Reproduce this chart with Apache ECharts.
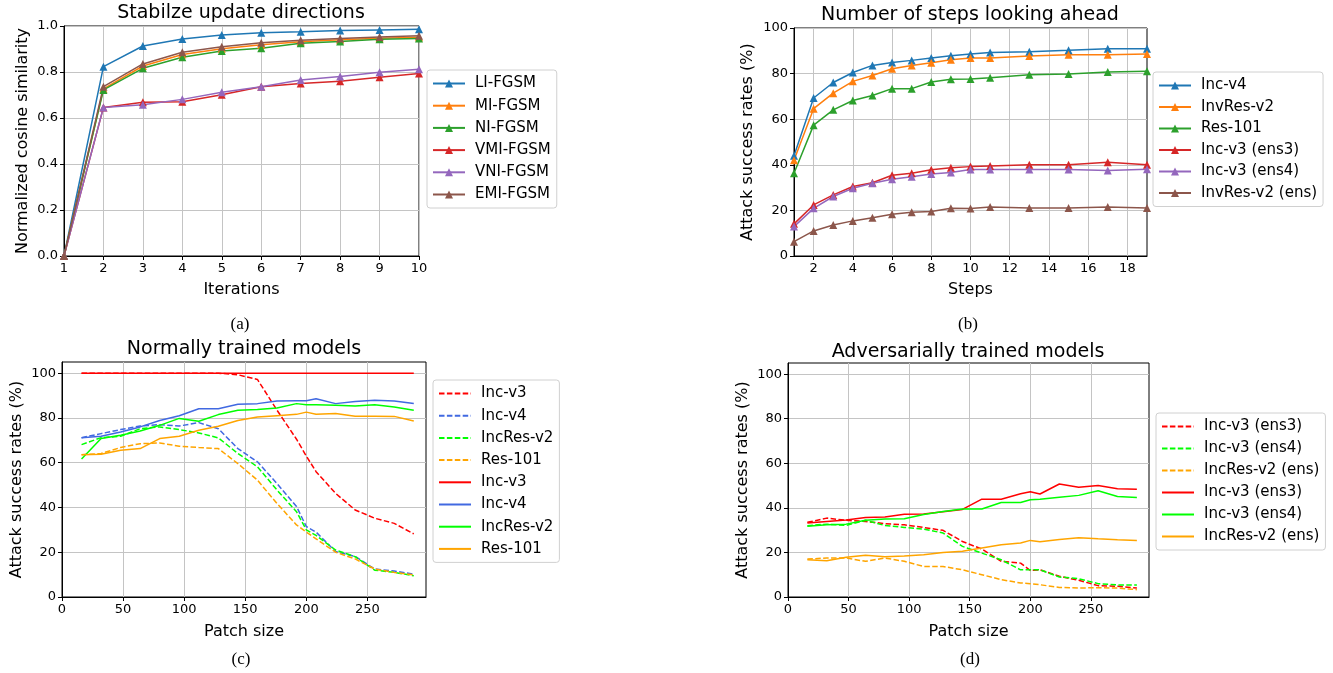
<!doctype html>
<html>
<head>
<meta charset="utf-8">
<script src="https://cdn.jsdelivr.net/npm/echarts@6/dist/echarts.min.js"></script>
<style>
  html, body { margin: 0; padding: 0; background: #fff; }
  #main { width: 1333px; height: 673px; }
</style>
</head>
<body>
<div id="main"></div>
<script>
// (a) stabilize update directions
var iterX = [1, 2, 3, 4, 5, 6, 7, 8, 9, 10];
var liFgsm  = [0, 0.823, 0.913, 0.943, 0.961, 0.971, 0.975, 0.980, 0.983, 0.986];
var miFgsm  = [0, 0.727, 0.826, 0.876, 0.901, 0.919, 0.932, 0.940, 0.947, 0.951];
var niFgsm  = [0, 0.722, 0.816, 0.864, 0.891, 0.903, 0.925, 0.933, 0.942, 0.946];
var vmiFgsm = [0, 0.646, 0.668, 0.671, 0.701, 0.736, 0.750, 0.760, 0.777, 0.794];
var vniFgsm = [0, 0.646, 0.658, 0.681, 0.712, 0.736, 0.765, 0.780, 0.799, 0.812];
var emiFgsm = [0, 0.736, 0.835, 0.886, 0.910, 0.927, 0.938, 0.946, 0.952, 0.958];

// (b) number of steps looking ahead
var stepsX = [1, 2, 3, 4, 5, 6, 7, 8, 9, 10, 11, 13, 15, 17, 19];
var bIncV4     = [44, 69.3, 76.1, 80.5, 83.6, 84.9, 85.8, 86.8, 87.8, 88.6, 89.3, 89.6, 90.2, 90.9, 90.9];
var bInvResV2  = [42, 64.6, 71.4, 76.6, 79.2, 82.1, 83.6, 84.8, 86.1, 86.8, 86.8, 87.7, 88.3, 88.3, 88.6];
var bRes101    = [36.3, 57.4, 64.1, 68.2, 70.4, 73.4, 73.4, 76.3, 77.5, 77.6, 78.2, 79.5, 79.8, 80.7, 81];
var bIncV3Ens3 = [14.1, 22.4, 26.8, 30.5, 32.1, 35.4, 36.3, 37.8, 38.7, 39.2, 39.5, 40, 40, 41.1, 40];
var bIncV3Ens4 = [12.9, 20.9, 26.1, 29.7, 31.9, 33.7, 34.8, 36, 36.6, 37.9, 37.9, 37.9, 37.9, 37.5, 38.1];
var bInvResEns = [6.3, 11, 13.6, 15.4, 16.8, 18.3, 19.2, 19.5, 20.9, 20.8, 21.5, 21.1, 21.1, 21.5, 21.1];

// (c) normally trained models, (d) adversarially trained models
var patchX = [16, 32, 48, 64, 80, 96, 112, 128, 144, 160, 176, 192, 200, 208, 224, 240, 256, 272, 288];
var cIncV3Dash    = [100, 100, 100, 100, 100, 100, 100, 100, 99.3, 97.2, 83.5, 70.5, 63, 56, 46.3, 38.9, 35.2, 32.9, 28.2];
var cIncV4Dash    = [71.2, 73, 74.8, 76.4, 77, 76.4, 77.9, 75.2, 66.3, 60.4, 50.7, 40.4, 31.5, 29, 20.3, 18.1, 12.5, 11.6, 10.2];
var cIncResV2Dash = [68.1, 71.2, 71.8, 75.2, 76, 74.8, 73.3, 71.1, 64.1, 58.2, 47.8, 38.1, 30, 27.5, 21, 18, 12, 11, 9.5];
var cRes101Dash   = [63.6, 64.1, 66.8, 68.5, 68.8, 67.4, 66.8, 66.3, 59.6, 52.2, 41.8, 32.2, 29, 26, 20, 17, 12.5, 11, 9.9];
var cIncV3        = [100, 100, 100, 100, 100, 100, 100, 100, 100, 100, 100, 100, 100, 100, 100, 100, 100, 100, 100];
var cIncV4        = [71.2, 71.8, 73.7, 76, 78.9, 81, 84.1, 84.1, 86.1, 86.4, 87.6, 87.7, 87.7, 88.6, 86.4, 87.4, 87.9, 87.6, 86.5];
var cIncResV2     = [61.7, 70.8, 72.3, 74.2, 76.7, 79.8, 78.5, 81.5, 83.4, 83.8, 84.4, 86.4, 85.9, 85.9, 85.7, 85.3, 85.9, 84.9, 83.4];
var cRes101       = [63.6, 63.8, 65.6, 66.3, 70.8, 71.8, 74.5, 76.3, 78.9, 80.4, 81, 81.6, 82.6, 81.7, 82, 80.8, 80.8, 80.7, 78.6];

var dEns3Dash   = [33.5, 35.4, 34.4, 33.9, 32.9, 32.4, 31.2, 29.9, 24.9, 21.5, 16, 15.2, 11.9, 12.2, 9.3, 7.5, 5.1, 4.8, 4];
var dEns4Dash   = [32, 32.7, 32.1, 34.4, 32.1, 31.2, 30.5, 28.7, 22.7, 19.7, 16.7, 12.2, 12.2, 12.2, 9, 8.2, 6, 5.4, 5.4];
var dIncResDash = [17, 17.5, 17.5, 16, 17.5, 16, 13.7, 13.7, 12.2, 10, 7.8, 6.3, 6, 5.5, 4.3, 4, 4.2, 4, 3.3];
var dEns3       = [33.2, 33.9, 34.6, 35.7, 35.9, 37.1, 37.2, 38.3, 39.3, 43.9, 43.9, 46.3, 47.2, 46.2, 50.7, 49.2, 50, 48.6, 48.3];
var dEns4       = [31.7, 32.4, 32.7, 34.4, 35, 35.1, 37, 38.4, 39.5, 39.5, 42.4, 42.4, 43.6, 43.9, 44.8, 45.6, 47.7, 45.1, 44.7];
var dIncRes     = [16.7, 16.3, 17.8, 18.7, 18.1, 18.4, 19, 20, 20.5, 22, 23.4, 24.2, 25.4, 24.8, 25.8, 26.6, 26.1, 25.7, 25.4];

var FONT = 'DejaVu Sans';
var DASH = [5.5, 2.4];
var tab = ['#1f77b4', '#ff7f0e', '#2ca02c', '#d62728', '#9467bd', '#8c564b'];

function pairs(xs, ys) {
    return xs.map(function (x, i) { return [x, ys[i]]; });
}

function tickLabel(extra) {
    return Object.assign({ fontFamily: FONT, fontSize: 13, color: '#000', margin: 6 }, extra || {});
}

function tick(extra) {
    return Object.assign({ show: true, length: 4, lineStyle: { color: '#000' } }, extra || {});
}

function baseAxis(gi, min, max, name, gap) {
    return {
        gridIndex: gi, type: 'value', min: min, max: max,
        name: name, nameLocation: 'middle', nameGap: gap,
        nameTextStyle: { fontFamily: FONT, fontSize: 16, color: '#000' },
        axisLine: { show: true, onZero: false, lineStyle: { color: '#000', width: 1 } },
        axisTick: tick(),
        axisLabel: tickLabel(),
        splitLine: { show: true, lineStyle: { color: '#c4c4c4', width: 1 } }
    };
}

function markLine(name, gi, xs, ys, color) {
    return {
        name: name, type: 'line', xAxisIndex: gi, yAxisIndex: gi,
        data: pairs(xs, ys), symbol: 'triangle', symbolSize: 8,
        color: color, lineStyle: { color: color, width: 1.5 },
        itemStyle: { color: color }, clip: true
    };
}

function plainLine(name, gi, xs, ys, color, dashed) {
    return {
        name: name, type: 'line', xAxisIndex: gi, yAxisIndex: gi,
        data: pairs(xs, ys), symbol: 'none',
        color: color, lineStyle: { color: color, width: 1.5, type: dashed ? DASH : 'solid' },
        itemStyle: { color: color }, clip: true
    };
}

function legend(left, top, names, plain, gap) {
    var lg = {
        orient: 'vertical', left: left, top: top,
        data: names, itemWidth: 32, itemHeight: 10, itemGap: gap,
        padding: [6, 6, 6, 5],
        borderColor: '#d0d0d0', borderWidth: 1, borderRadius: 3,
        backgroundColor: '#fff',
        selectedMode: false,
        formatter: function (n) { return n.trim(); },
        textStyle: { fontFamily: FONT, fontSize: 15, color: '#000', padding: [0, 0, 0, 5] }
    };
    if (plain) lg.itemStyle = { color: 'transparent', borderWidth: 0 };
    return lg;
}

function titleAt(text, x, y, size, family) {
    return {
        text: text, left: x, top: y, textAlign: 'center', padding: 0,
        textStyle: { fontFamily: family || FONT, fontSize: size, fontWeight: 'normal', color: '#000' }
    };
}

var chart = echarts.init(document.getElementById('main'));

var gridBox = { show: true, borderColor: '#000', borderWidth: 1, containLabel: false };
var ticksB = [2, 4, 6, 8, 10, 12, 14, 16, 18];
var ticksC = [0, 50, 100, 150, 200, 250];
var ticksY = [0, 20, 40, 60, 80, 100];

var xa = baseAxis(0, 1, 10, 'Iterations', 26);
xa.interval = 1;
var xb = baseAxis(1, 1, 19, 'Steps', 26);
xb.axisTick = tick({ customValues: ticksB });
xb.axisLabel = tickLabel({ customValues: ticksB });
var xc = baseAxis(2, 0, 298, 'Patch size', 27);
xc.axisTick = tick({ customValues: ticksC });
xc.axisLabel = tickLabel({ customValues: ticksC });
var xd = baseAxis(3, 0, 298, 'Patch size', 27);
xd.axisTick = tick({ customValues: ticksC });
xd.axisLabel = tickLabel({ customValues: ticksC });

var ya = baseAxis(0, 0, 1, 'Normalized cosine similarity', 33);
ya.interval = 0.2;
ya.axisLabel = tickLabel({ formatter: function (v) { return v.toFixed(1); } });
var yb = baseAxis(1, 0, 100, 'Attack success rates (%)', 38);
yb.interval = 20;
var yc = baseAxis(2, 0, 105, 'Attack success rates (%)', 37);
yc.axisTick = tick({ customValues: ticksY });
yc.axisLabel = tickLabel({ customValues: ticksY });
var yd = baseAxis(3, 0, 105, 'Attack success rates (%)', 37);
yd.axisTick = tick({ customValues: ticksY });
yd.axisLabel = tickLabel({ customValues: ticksY });

chart.setOption({
    animation: false,
    backgroundColor: '#fff',
    title: [
        titleAt('Stabilze update directions', 241, 4, 19),
        titleAt('Number of steps looking ahead', 970, 6, 19),
        titleAt('Normally trained models', 244, 340, 19),
        titleAt('Adversarially trained models', 968, 343, 19),
        titleAt('(a)', 240, 316, 17, 'Liberation Serif'),
        titleAt('(b)', 968, 316, 17, 'Liberation Serif'),
        titleAt('(c)', 241, 651, 17, 'Liberation Serif'),
        titleAt('(d)', 970, 651, 17, 'Liberation Serif')
    ],
    grid: [
        Object.assign({ left: 64, top: 26, width: 355, height: 230 }, gridBox),
        Object.assign({ left: 794, top: 28, width: 353, height: 228 }, gridBox),
        Object.assign({ left: 62, top: 362, width: 364, height: 235 }, gridBox),
        Object.assign({ left: 788, top: 363, width: 361, height: 234 }, gridBox)
    ],
    xAxis: [xa, xb, xc, xd],
    yAxis: [ya, yb, yc, yd],
    legend: [
        legend(427, 70, ['LI-FGSM', 'MI-FGSM', 'NI-FGSM', 'VMI-FGSM', 'VNI-FGSM', 'EMI-FGSM'], false, 7.2),
        legend(1153, 72, ['Inc-v4', 'InvRes-v2', 'Res-101', 'Inc-v3 (ens3)', 'Inc-v3 (ens4)', 'InvRes-v2 (ens)'], false, 6.5),
        legend(433, 380, ['Inc-v3 ', 'Inc-v4 ', 'IncRes-v2 ', 'Res-101 ',
            'Inc-v3  ', 'Inc-v4  ', 'IncRes-v2  ', 'Res-101  '], true, 7.2),
        legend(1156, 413, ['Inc-v3 (ens3) ', 'Inc-v3 (ens4) ', 'IncRes-v2 (ens) ',
            'Inc-v3 (ens3)  ', 'Inc-v3 (ens4)  ', 'IncRes-v2 (ens)  '], true, 7)
    ],
    series: [
        markLine('LI-FGSM', 0, iterX, liFgsm, tab[0]),
        markLine('MI-FGSM', 0, iterX, miFgsm, tab[1]),
        markLine('NI-FGSM', 0, iterX, niFgsm, tab[2]),
        markLine('VMI-FGSM', 0, iterX, vmiFgsm, tab[3]),
        markLine('VNI-FGSM', 0, iterX, vniFgsm, tab[4]),
        markLine('EMI-FGSM', 0, iterX, emiFgsm, tab[5]),

        markLine('Inc-v4', 1, stepsX, bIncV4, tab[0]),
        markLine('InvRes-v2', 1, stepsX, bInvResV2, tab[1]),
        markLine('Res-101', 1, stepsX, bRes101, tab[2]),
        markLine('Inc-v3 (ens3)', 1, stepsX, bIncV3Ens3, tab[3]),
        markLine('Inc-v3 (ens4)', 1, stepsX, bIncV3Ens4, tab[4]),
        markLine('InvRes-v2 (ens)', 1, stepsX, bInvResEns, tab[5]),

        plainLine('Inc-v3 ', 2, patchX, cIncV3Dash, '#ff0000', true),
        plainLine('Inc-v4 ', 2, patchX, cIncV4Dash, '#4169e1', true),
        plainLine('IncRes-v2 ', 2, patchX, cIncResV2Dash, '#00ff00', true),
        plainLine('Res-101 ', 2, patchX, cRes101Dash, '#ffa500', true),
        plainLine('Inc-v3  ', 2, patchX, cIncV3, '#ff0000', false),
        plainLine('Inc-v4  ', 2, patchX, cIncV4, '#4169e1', false),
        plainLine('IncRes-v2  ', 2, patchX, cIncResV2, '#00ff00', false),
        plainLine('Res-101  ', 2, patchX, cRes101, '#ffa500', false),

        plainLine('Inc-v3 (ens3) ', 3, patchX, dEns3Dash, '#ff0000', true),
        plainLine('Inc-v3 (ens4) ', 3, patchX, dEns4Dash, '#00ff00', true),
        plainLine('IncRes-v2 (ens) ', 3, patchX, dIncResDash, '#ffa500', true),
        plainLine('Inc-v3 (ens3)  ', 3, patchX, dEns3, '#ff0000', false),
        plainLine('Inc-v3 (ens4)  ', 3, patchX, dEns4, '#00ff00', false),
        plainLine('IncRes-v2 (ens)  ', 3, patchX, dIncRes, '#ffa500', false)
    ]
});

window.onresize = chart.resize;
</script>
</body>
</html>
